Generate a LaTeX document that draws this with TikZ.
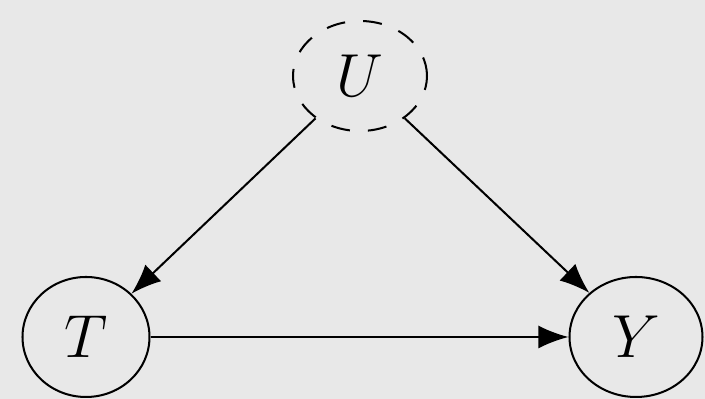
\documentclass[tikz,border=0pt]{standalone}
\usepackage{graphicx}
\usetikzlibrary{shapes.geometric, arrows.meta}
\definecolor{bggray}{HTML}{E8E8E8}
\newcommand{\bigvar}[1]{\scalebox{1.39}{\Huge$#1$}}

\begin{document}
\begin{tikzpicture}[
  var/.style={ellipse,draw=black,line width=1.15pt,inner sep=0pt},
  hidden/.style={var,dash pattern=on 0.38cm off 0.36cm},
  edge/.style={-{Latex[length=0.6cm,width=0.46cm]},line width=1.15pt}
]
  \fill[bggray] (0,0) rectangle (14.1,7.98);
  \useasboundingbox (0,0) rectangle (14.1,7.98);

  \node[hidden,minimum width=2.68cm,minimum height=2.2cm](u) at (7.2,6.46) {\bigvar{U}};
  \node[var,minimum width=2.54cm,minimum height=2.4cm](t)    at (1.72,1.24) {\bigvar{T}};
  \node[var,minimum width=2.66cm,minimum height=2.4cm](y)    at (12.72,1.24) {\bigvar{Y}};

  \draw[edge](u)--(t);
  \draw[edge](u)--(y);
  \draw[edge](t)--(y);
\end{tikzpicture}
\end{document}
